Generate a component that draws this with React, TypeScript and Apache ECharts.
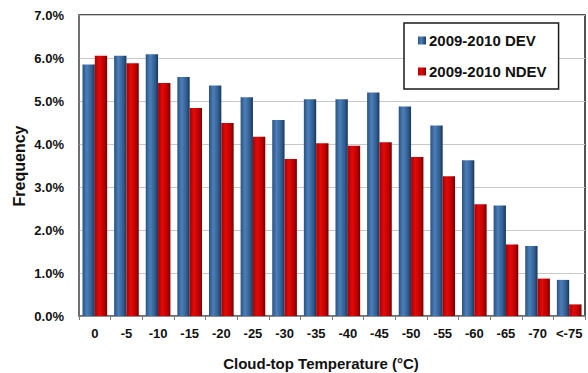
import React, { useEffect, useRef } from "react";
import * as echarts from "echarts";

// Cloud-top temperature bins (°C)
const categories = ["0", "-5", "-10", "-15", "-20", "-25", "-30", "-35", "-40", "-45", "-50", "-55", "-60", "-65", "-70", "<-75"];

// Frequency (%) per bin
const devValues = [5.85, 6.05, 6.09, 5.56, 5.36, 5.09, 4.56, 5.04, 5.04, 5.2, 4.87, 4.43, 3.62, 2.57, 1.63, 0.84];
const ndevValues = [6.05, 5.88, 5.42, 4.84, 4.49, 4.17, 3.65, 4.02, 3.96, 4.04, 3.7, 3.25, 2.6, 1.66, 0.87, 0.27];

const seriesNames = ["2009-2010 DEV", "2009-2010 NDEV"];

const FONT = "'Liberation Sans', Arial, sans-serif";

const cylinder = (stops: string[]) =>
  new echarts.graphic.LinearGradient(0, 0, 1, 0, [
    { offset: 0, color: stops[0] },
    { offset: 0.35, color: stops[1] },
    { offset: 0.75, color: stops[2] },
    { offset: 1, color: stops[3] },
  ]);

export default function App() {
  const ref = useRef<HTMLDivElement>(null);

  useEffect(() => {
    if (!ref.current) return;
    const chart = echarts.init(ref.current, undefined, { renderer: "svg" });
    const blue = cylinder(["#2a5282", "#4c7fb8", "#305d90", "#1b3559"]);
    const red = cylinder(["#a80000", "#e20a0a", "#bc0000", "#720000"]);

    chart.setOption({
      animation: false,
      backgroundColor: "#ffffff",
      textStyle: { fontFamily: FONT },
      grid: {
        left: 79,
        right: 3,
        top: 15,
        bottom: 57,
        show: true,
        borderColor: "#1a1a1a",
        borderWidth: 1.5,
        containLabel: false,
      },
      legend: {
        orient: "vertical",
        left: 404,
        top: 23,
        padding: [10, 12, 10, 14],
        itemGap: 16,
        itemWidth: 8,
        itemHeight: 8,
        icon: "rect",
        borderColor: "#1a1a1a",
        borderWidth: 1.5,
        backgroundColor: "#ffffff",
        textStyle: { fontFamily: FONT, fontSize: 15, fontWeight: "bold", color: "#111", padding: [0, 0, 0, -2] },
        data: seriesNames,
      },
      xAxis: {
        type: "category",
        data: categories,
        axisLine: { show: true, lineStyle: { color: "#7a7a7a", width: 1.5 } },
        axisTick: { show: true, length: 4, lineStyle: { color: "#7a7a7a" } },
        axisLabel: { interval: 0, fontFamily: FONT, fontSize: 13, fontWeight: "bold", color: "#111", margin: 11 },
      },
      yAxis: {
        type: "value",
        min: 0,
        max: 7,
        interval: 1,
        axisLine: { show: true, lineStyle: { color: "#7a7a7a", width: 1.5 } },
        axisTick: { show: false },
        splitLine: { lineStyle: { color: "#c8c8c8", width: 1 } },
        axisLabel: {
          fontFamily: FONT,
          fontSize: 13,
          fontWeight: "bold",
          color: "#111",
          margin: 15,
          formatter: (v: number) => v.toFixed(1) + "%",
        },
      },
      graphic: [
        {
          type: "text",
          x: 321,
          y: 363,
          style: {
            text: "Cloud-top Temperature (°C)",
            fontFamily: FONT,
            fontSize: 15,
            fontWeight: "bold",
            fill: "#111",
            align: "center",
            verticalAlign: "middle",
          },
        },
        {
          type: "text",
          x: 19,
          y: 166,
          rotation: Math.PI / 2,
          style: {
            text: "Frequency",
            fontFamily: FONT,
            fontSize: 16,
            fontWeight: "bold",
            fill: "#111",
            align: "center",
            verticalAlign: "middle",
          },
        },
      ],
      series: [
        {
          name: seriesNames[0],
          type: "bar",
          data: devValues,
          barGap: "0%",
          barCategoryGap: "22%",
          itemStyle: { color: blue },
        },
        {
          name: seriesNames[1],
          type: "bar",
          data: ndevValues,
          barGap: "0%",
          barCategoryGap: "22%",
          itemStyle: { color: red },
        },
      ],
    });

    return () => chart.dispose();
  }, []);

  return (
    <div
      ref={ref}
      style={{ position: "absolute", left: 0, top: 0, width: 588, height: 373 }}
    />
  );
}
